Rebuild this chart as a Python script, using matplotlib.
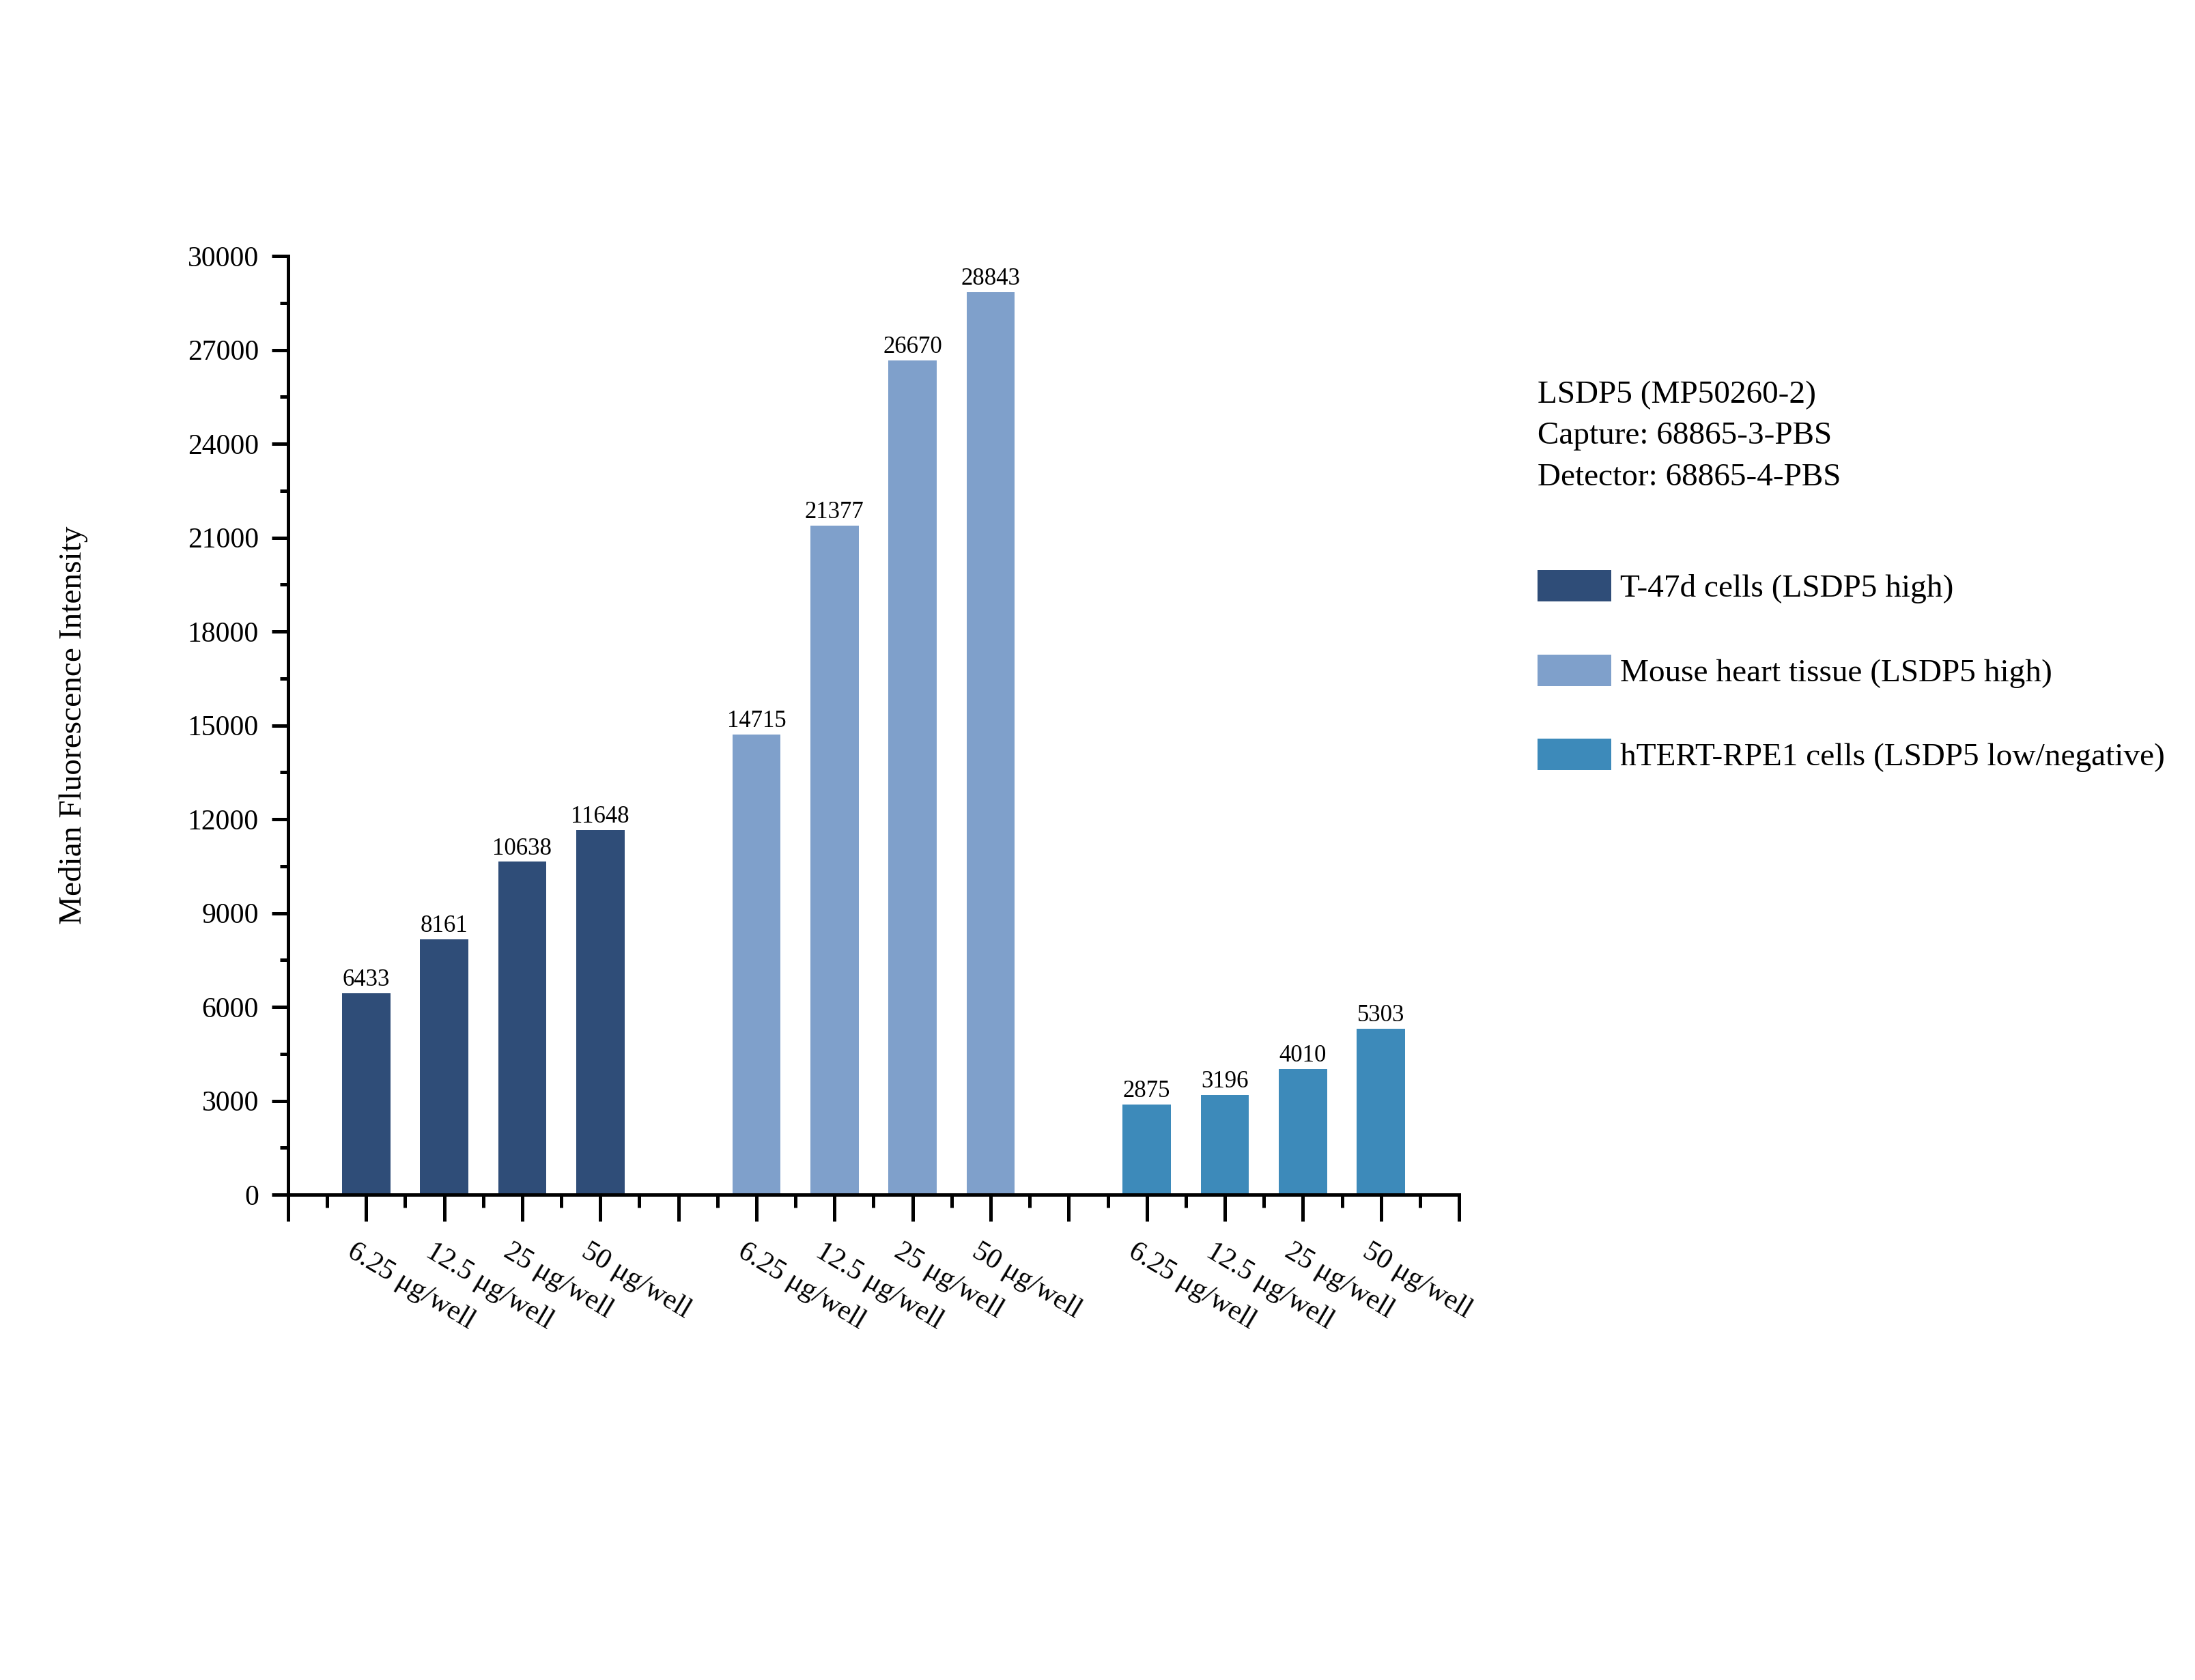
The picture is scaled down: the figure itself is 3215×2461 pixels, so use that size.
import numpy as np
import matplotlib
matplotlib.use("Agg")
import matplotlib.pyplot as plt
from matplotlib.ticker import FixedLocator, MultipleLocator
from matplotlib.transforms import ScaledTranslation

plt.rcParams['font.family'] = ['Liberation Serif', 'DejaVu Serif']

groups = ["T-47d cells (LSDP5 high)", "Mouse heart tissue (LSDP5 high)",
          "hTERT-RPE1 cells (LSDP5 low/negative)"]
doses = ["6.25 \u03bcg/well", "12.5 \u03bcg/well", "25 \u03bcg/well", "50 \u03bcg/well"]
t47d = [6433, 8161, 10638, 11648]
mouse = [14715, 21377, 26670, 28843]
rpe1 = [2875, 3196, 4010, 5303]
colors = ["#2F4D78", "#7FA0CB", "#3D8ABA"]

fig = plt.figure(figsize=(16.08, 12.305), dpi=200)
ax = fig.add_axes([0.1312, 0.2889, 0.5333, 0.5587])

tick_pos = []
tick_lab = []
handles = []
for g, vals in enumerate([t47d, mouse, rpe1]):
    xs = np.arange(len(vals)) + g * 5 + 1
    b = ax.bar(xs, vals, width=0.62, color=colors[g], label=groups[g], zorder=2)
    handles.append(b)
    for x, v in zip(xs, vals):
        ax.annotate(str(v), (x, v), xytext=(0, 1), textcoords="offset points",
                    ha="center", va="bottom", fontsize=12.5)
    tick_pos += list(xs)
    tick_lab += doses

ax.set_xlim(0, 15)
ax.set_ylim(0, 30000)
ax.xaxis.set_major_locator(FixedLocator(np.arange(0, 16)))
ax.xaxis.set_minor_locator(FixedLocator(np.arange(0.5, 15, 1)))
ax.set_xticklabels(["" if i not in tick_pos else tick_lab[tick_pos.index(i)]
                    for i in range(16)])
ax.yaxis.set_major_locator(MultipleLocator(3000))
ax.yaxis.set_minor_locator(MultipleLocator(1500))

for s in ["top", "right"]:
    ax.spines[s].set_visible(False)
for s in ["left", "bottom"]:
    ax.spines[s].set_linewidth(1.8)

ax.tick_params(axis="x", which="major", direction="out", length=14, width=1.8,
               pad=9, labelsize=15)
ax.tick_params(axis="x", which="minor", direction="out", length=7, width=1.8)
ax.tick_params(axis="y", which="major", direction="out", length=8.5, width=1.8,
               pad=7, labelsize=15)
ax.tick_params(axis="y", which="minor", direction="out", length=4.5, width=1.8)

# rotated dose labels, shifted a little left of their ticks
off = ScaledTranslation(-14 / 200, 0, fig.dpi_scale_trans)
for lab in ax.get_xticklabels():
    lab.set_rotation(-31)
    lab.set_ha("left")
    lab.set_va("top")
    lab.set_rotation_mode("anchor")
    lab.set_transform(lab.get_transform() + off)

ax.set_ylabel("Median Fluorescence Intensity", fontsize=17)
ax.yaxis.set_label_coords(-0.171, 0.5)

fig.text(0.7002, 0.7735, "LSDP5 (MP50260-2)\nCapture: 68865-3-PBS\nDetector: 68865-4-PBS",
         ha="left", va="top", fontsize=17, linespacing=1.55)

fig.legend(handles=handles, loc="upper left", bbox_to_anchor=(0.7002, 0.6607),
           frameon=False, fontsize=17, borderpad=0, borderaxespad=0,
           handlelength=2.3, handleheight=1.12, handletextpad=0.26,
           labelspacing=1.58)

fig.savefig("out.png", dpi=200)
